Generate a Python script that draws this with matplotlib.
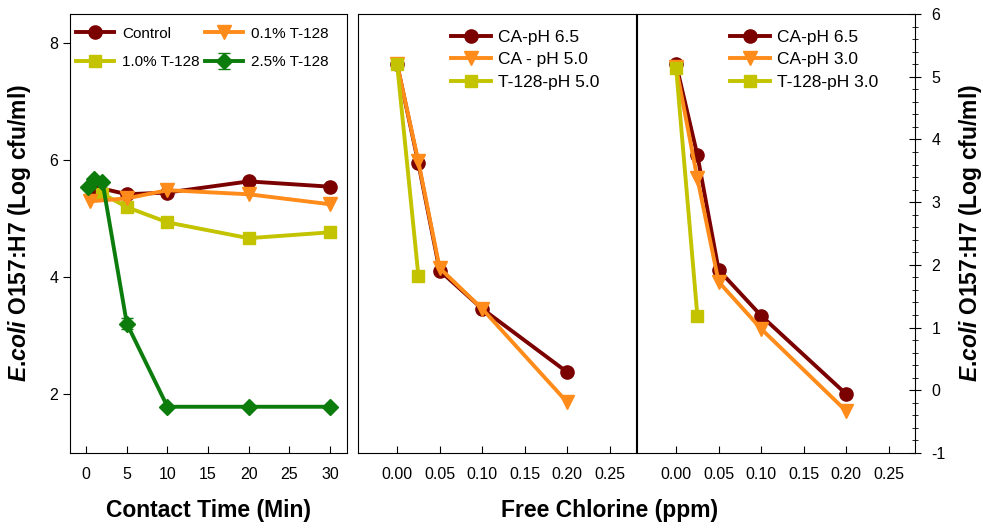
import matplotlib
matplotlib.use("Agg")
import matplotlib.pyplot as plt
from matplotlib.ticker import MultipleLocator

plt.rcParams['font.family'] = ['Liberation Sans', 'DejaVu Sans']
plt.rcParams['mathtext.fontset'] = 'custom'
plt.rcParams['mathtext.it'] = 'Liberation Sans:italic:bold'
plt.rcParams['mathtext.rm'] = 'Liberation Sans:bold'
plt.rcParams['axes.unicode_minus'] = False

RED = '#7b0000'
ORANGE = '#ff8c1a'
YELLOW = '#c3c300'
GREEN = '#0c7c0c'

# panel 1: contact time
ctrl_t = [1, 5, 10, 20, 30]
ctrl = [5.55, 5.42, 5.45, 5.64, 5.55]
t01_t = [0.5, 5, 10, 20, 30]
t01 = [5.30, 5.35, 5.49, 5.42, 5.25]
t10_t = [2, 5, 10, 20, 30]
t10 = [5.43, 5.20, 4.94, 4.67, 4.77]
t25_t = [0.25, 1, 2, 5, 10, 20, 30]
t25 = [5.54, 5.68, 5.63, 3.21, 1.79, 1.79, 1.79]
t25_err = [0, 0, 0, 0.1, 0, 0, 0]

# panel 2: pH 5.0
chl = [0.0, 0.025, 0.05, 0.1, 0.2]
ca65_a = [5.20, 3.62, 1.91, 1.30, 0.29]
ca50 = [5.20, 3.65, 1.95, 1.30, -0.19]
chl_t = [0.0, 0.025]
t128_50 = [5.20, 1.83]

# panel 3: pH 3.0
ca65_b = [5.20, 3.75, 1.92, 1.19, -0.06]
ca30 = [5.15, 3.38, 1.73, 0.98, -0.33]
t128_30 = [5.14, 1.19]

ylab = r'$\mathit{E}$.$\mathit{coli}$ O157:H7 (Log cfu/ml)'

fig = plt.figure(figsize=(9.83, 5.29), dpi=100)
ax1 = fig.add_axes([70/983, 76/529, 277/983, 439/529])
ax2 = fig.add_axes([358/983, 76/529, 278/983, 439/529])
ax3 = fig.add_axes([637/983, 76/529, 278/983, 439/529])

lw = 2.8
ms = 9.5
ax1.plot(ctrl_t, ctrl, '-o', color=RED, lw=lw, ms=ms, label='Control')
ax1.plot(t10_t, t10, '-s', color=YELLOW, lw=lw, ms=ms - 1, label='1.0% T-128')
ax1.plot(t01_t, t01, '-v', color=ORANGE, lw=lw, ms=ms, label='0.1% T-128')
ax1.errorbar(t25_t, t25, yerr=t25_err, fmt='-D', color=GREEN, lw=lw, ms=ms - 1,
             capsize=4, elinewidth=1.2, label='2.5% T-128')
ax1.set_xlim(-2, 32.1)
ax1.set_ylim(1, 8.5)
ax1.xaxis.set_major_locator(MultipleLocator(5))
ax1.yaxis.set_major_locator(MultipleLocator(2))
ax1.tick_params(axis='x', direction='in', length=5, labelsize=11.5, pad=10)
ax1.tick_params(axis='y', direction='out', length=5, labelsize=11.5)
ax1.set_xlabel('Contact Time (Min)', fontsize=16.5, fontweight='bold', labelpad=12)
ax1.set_ylabel(ylab, fontsize=16.5, fontweight='bold')
ax1.yaxis.set_label_coords(-0.135, 0.5)
ax1.legend(ncol=2, loc='upper left', bbox_to_anchor=(0.0, 0.985),
           frameon=False, fontsize=11, handlelength=2.5, handletextpad=0.5,
           columnspacing=0.35, labelspacing=0.95, borderaxespad=0.2, borderpad=0.2)

for ax, series, labels in [
    (ax2, [(chl, ca65_a), (chl, ca50), (chl_t, t128_50)],
     ['CA-pH 6.5', 'CA - pH 5.0', 'T-128-pH 5.0']),
    (ax3, [(chl, ca65_b), (chl, ca30), (chl_t, t128_30)],
     ['CA-pH 6.5', 'CA-pH 3.0', 'T-128-pH 3.0']),
]:
    (x0, y0), (x1, y1), (x2, y2) = series
    ax.plot(x0, y0, '-o', color=RED, lw=lw, ms=ms, label=labels[0])
    ax.plot(x1, y1, '-v', color=ORANGE, lw=lw, ms=ms, label=labels[1])
    ax.plot(x2, y2, '-s', color=YELLOW, lw=lw, ms=ms - 1, label=labels[2])
    ax.set_xlim(-0.046, 0.281)
    ax.set_ylim(-1, 6)
    ax.xaxis.set_major_locator(MultipleLocator(0.05))
    ax.xaxis.set_major_formatter(matplotlib.ticker.FormatStrFormatter('%.2f'))
    ax.tick_params(axis='x', direction='in', length=5, labelsize=11.5, pad=10)
    ax.legend(loc='upper left', bbox_to_anchor=(0.31, 0.98), frameon=False,
              fontsize=12.5, handlelength=2.3, handletextpad=0.4,
              labelspacing=0.42, borderaxespad=0.2, borderpad=0.2)

ax2.tick_params(axis='y', left=False, labelleft=False)
ax3.yaxis.tick_right()
ax3.yaxis.set_label_position('right')
ax3.yaxis.set_major_locator(MultipleLocator(1))
ax3.yaxis.set_minor_locator(MultipleLocator(0.2))
ax3.tick_params(axis='y', which='major', direction='inout', length=8, labelsize=11.5, pad=8)
ax3.tick_params(axis='y', which='minor', direction='inout', length=4)
ax3.set_ylabel(ylab, fontsize=16.5, fontweight='bold', rotation=90)
ax3.yaxis.set_label_coords(1.15, 0.5)

fig.text(610/983, 1 - 510/529, 'Free Chlorine (ppm)', ha='center', va='center',
         fontsize=16.5, fontweight='bold')

fig.savefig('out.png', dpi=100)
